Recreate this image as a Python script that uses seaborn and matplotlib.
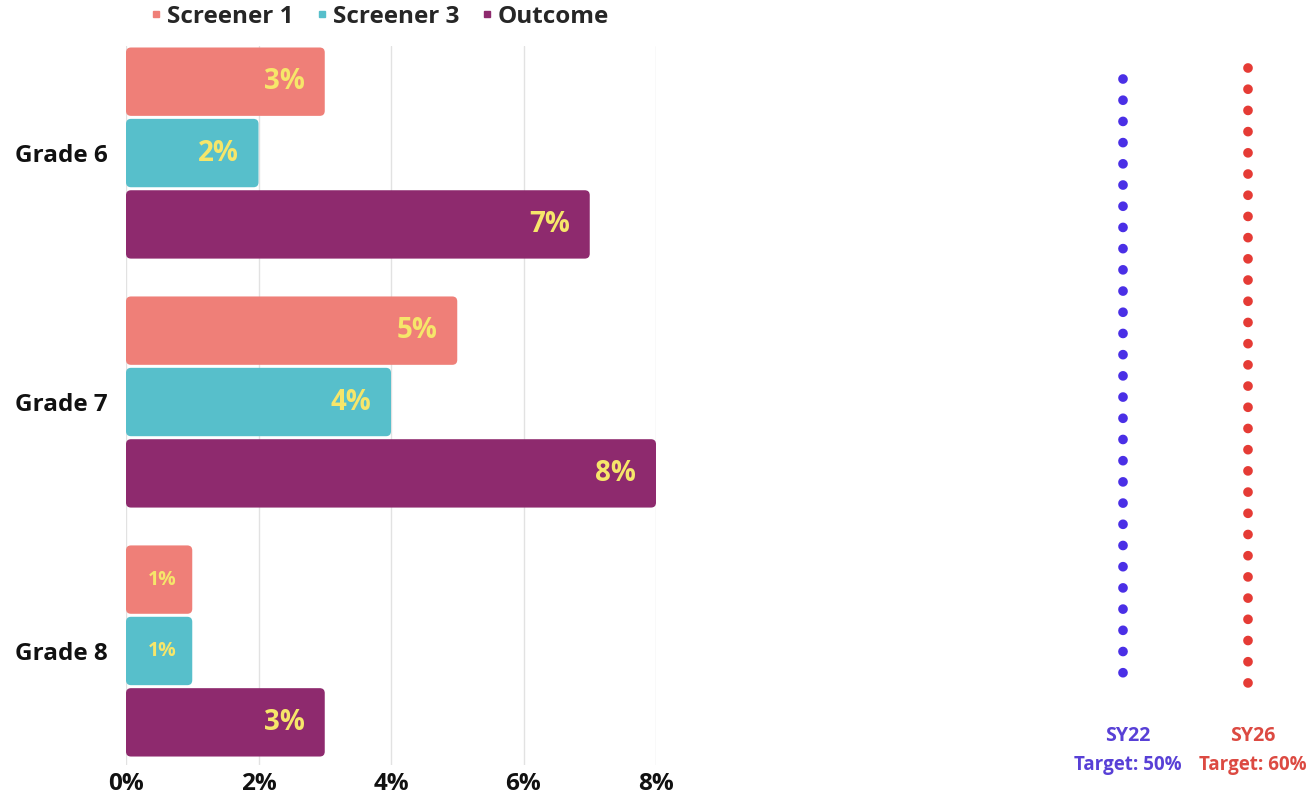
import numpy as np
import pandas as pd
import matplotlib
matplotlib.use("Agg")
import matplotlib.pyplot as plt
from matplotlib.lines import Line2D
from matplotlib.patches import FancyBboxPatch
import seaborn as sns

# ---- data ----
grades = ["Grade 6", "Grade 7", "Grade 8"]
series = ["Screener 1", "Screener 3", "Outcome"]
screener1 = [3, 5, 1]
screener3 = [2, 4, 1]
outcome = [7, 8, 3]
x_ticks = [0, 2, 4, 6, 8]
x_tick_labels = ["0%", "2%", "4%", "6%", "8%"]

target_names = ["SY22", "SY26"]
target_labels = ["Target: 50%", "Target: 60%"]
# extent of the decorative dotted target columns (axis fraction)
target_top = [0.954, 0.969]
target_bottom = [0.124, 0.112]

colors = ["#ef7f78", "#57bfcb", "#8e2a6e"]
target_colors = ["#4a2fe6", "#e53b35"]
target_text_colors = ["#5840d6", "#dc4a42"]
label_color = "#f6e66a"

df = pd.DataFrame({
    "grade": np.repeat(grades, 3),
    "series": series * 3,
    "value": [v for trio in zip(screener1, screener3, outcome) for v in trio],
})

sns.set_theme(style="white")
plt.rcParams["font.family"] = ["Open Sans", "DejaVu Sans"]

fig = plt.figure(figsize=(13.14, 7.96), dpi=100)
W, H = 1314, 796
ax = fig.add_axes([126 / W, 31 / H, 530 / W, 719 / H])

sns.barplot(data=df, y="grade", x="value", hue="series", hue_order=series,
            order=grades, palette=colors, orient="h", width=0.86,
            saturation=1, ax=ax, legend=False, edgecolor="white", linewidth=1.2)

ax.set_xlim(0, 8)
ax.set_ylim(2.458, -0.43)
ax.set_xticks(x_ticks)
ax.set_xticklabels(x_tick_labels)
ax.set_xlabel("")
ax.set_ylabel("")
ax.grid(axis="x", color="#e2e2e2", linewidth=1)
ax.set_axisbelow(True)
for s in ax.spines.values():
    s.set_visible(False)
ax.tick_params(axis="x", labelsize=17.5, pad=5, length=0)
ax.tick_params(axis="y", labelsize=17.5, pad=13, length=0)
for t in ax.get_xticklabels() + ax.get_yticklabels():
    t.set_fontweight("bold")
    t.set_color("#111111")

# rounded bar corners (replace rectangles by rounded boxes of same geometry)
px_x = 530 / 8.0          # pixels per x unit
px_y = 719 / 2.888        # pixels per y unit
for cont in ax.containers:
    for bar in cont:
        x0, y0 = bar.get_x(), bar.get_y()
        w, h = bar.get_width(), bar.get_height()
        gap = 1.5 / px_y
        fb = FancyBboxPatch((x0, y0 + gap), w, h - 2 * gap,
                            boxstyle=f"round,pad=0,rounding_size={5 / px_x}",
                            mutation_aspect=px_x / px_y,
                            facecolor=bar.get_facecolor(), edgecolor="none",
                            zorder=bar.get_zorder())
        ax.add_patch(fb)
        bar.set_visible(False)

# value labels
for cont in ax.containers:
    for bar in cont:
        w = bar.get_width()
        yc = bar.get_y() + bar.get_height() / 2
        small = w < 2
        ax.annotate(f"{w:.0f}%", xy=(w, yc), xytext=(-16 if small else -20, 0),
                    textcoords="offset pixels", ha="right", va="center",
                    color=label_color, fontweight="bold",
                    fontsize=14 if small else 20)

# legend
handles = [Line2D([0], [0], marker="s", linestyle="", markersize=4.5,
                  markerfacecolor=c, markeredgecolor=c) for c in colors]
leg = fig.legend(handles, series, loc="center", ncol=3, frameon=False,
                 bbox_to_anchor=(379 / W, 1 - 17 / H), handletextpad=0.15,
                 columnspacing=0.85, handlelength=0.6,
                 prop={"weight": "bold", "size": 17.5})

# right-hand target columns
ax2 = fig.add_axes([1060 / W, 31 / H, 250 / W, 719 / H])
ax2.set_xlim(-0.5, 1.5)
ax2.set_ylim(0, 1)
ax2.axis("off")
for i, name in enumerate(target_names):
    ax2.plot([i, i], [target_top[i], target_bottom[i]], color=target_colors[i],
             linewidth=7, linestyle=(0, (0.001, 2.18)),
             dash_capstyle="round", solid_capstyle="round")
    ax2.text(i + 0.04, 0.04, name, ha="center", va="center",
             color=target_text_colors[i], fontweight="bold", fontsize=14)
    ax2.text(i + 0.04, 0.0, target_labels[i], ha="center", va="center",
             color=target_text_colors[i], fontweight="bold", fontsize=13.5,
             clip_on=False)

fig.savefig("out.png", dpi=100)
